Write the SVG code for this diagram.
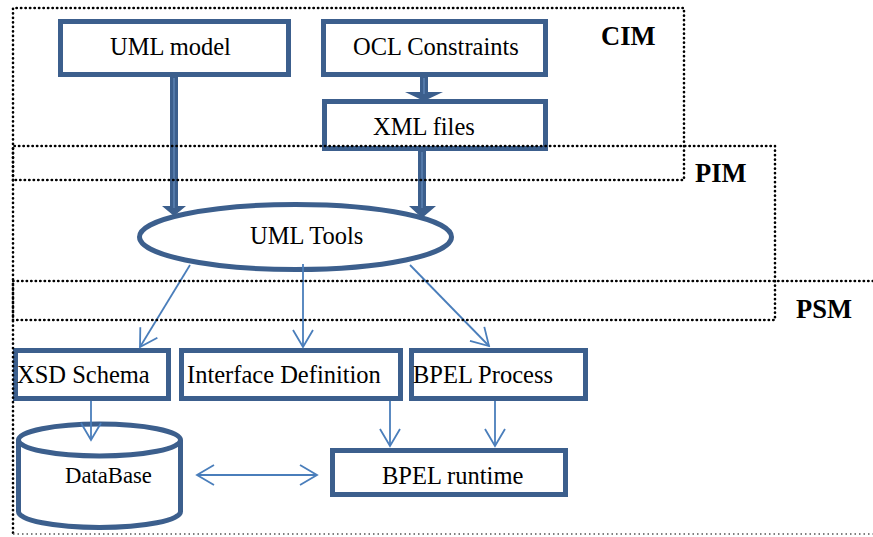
<svg xmlns="http://www.w3.org/2000/svg" width="873" height="537" viewBox="0 0 873 537">
<defs>
<style>
.box{fill:#fff;stroke:#3c5f8d;stroke-width:5}
.t{font-size:24.5px;fill:#000}
.lbl{font-size:26.5px;font-weight:bold;fill:#000}
.thin{fill:none;stroke:#4a7ebb;stroke-width:1.8}
.thick{fill:#3c5f8d}
.stripe{stroke:#5b82b3;stroke-width:1.5}
.dot{fill:none;stroke:#000;stroke-width:2.6;stroke-linecap:round;stroke-dasharray:0.3 4.2}
.dot2{fill:none;stroke:#555;stroke-width:1.5;stroke-dasharray:1.5 3}
</style>
<marker id="open" viewBox="-20 -12 22 24" refX="0" refY="0" markerWidth="22" markerHeight="24" markerUnits="userSpaceOnUse" orient="auto-start-reverse">
<path d="M-17,-10 L0,0 L-17,10" fill="none" stroke="#4a7ebb" stroke-width="1.8"/>
</marker>
</defs>
<rect width="873" height="537" fill="#fff"/>

<g id="connectors">
<polygon class="thick" points="170,77 178,77 178,206 186,206 174,216 162,206 170,206"/>
<line class="stripe" x1="174" y1="78" x2="174" y2="208"/>
<polygon class="thick" points="420,77 428,77 428,92 443,92 424,101 405,92 420,92"/>
<line class="stripe" x1="424" y1="78" x2="424" y2="94"/>
<polygon class="thick" points="418,151 426,151 426,206 436,206 422,218 409,206 418,206"/>
<line class="stripe" x1="422" y1="152" x2="422" y2="208"/>
</g>

<g font-family="Liberation Serif, Times New Roman, serif">
<g id="uml-model">
<rect class="box" x="60.5" y="21.5" width="228" height="53"/>
<text class="t" x="110" y="55">UML model</text>
</g>
<g id="ocl-constraints">
<rect class="box" x="323.5" y="21.5" width="222" height="53"/>
<text class="t" x="353" y="55">OCL Constraints</text>
</g>
<g id="xml-files">
<rect class="box" x="324.5" y="101.5" width="221" height="47"/>
<text class="t" x="373" y="135">XML files</text>
</g>
<g id="uml-tools">
<ellipse class="box" cx="295.5" cy="237" rx="156" ry="32.5"/>
<text class="t" x="250" y="244">UML Tools</text>
</g>
<g id="xsd-schema">
<rect class="box" x="15.5" y="350.5" width="153" height="48"/>
<text class="t" x="17" y="383">XSD Schema</text>
</g>
<g id="interface-definition">
<rect class="box" x="181.5" y="350.5" width="219" height="48"/>
<text class="t" x="187" y="383">Interface Definition</text>
</g>
<g id="bpel-process">
<rect class="box" x="411.5" y="350.5" width="174" height="48"/>
<text class="t" x="413" y="383">BPEL Process</text>
</g>
<g id="database">
<path class="box" style="fill:none" d="M18.5,440 L18.5,511.5 A81,16 0 0,0 180.5,511.5 L180.5,440"/>
<ellipse class="box" style="fill:none" cx="99.5" cy="440" rx="81" ry="16"/>
<text class="t" x="65" y="483" style="font-size:22.7px">DataBase</text>
</g>
<g id="bpel-runtime">
<rect class="box" x="332.5" y="450.5" width="233" height="44"/>
<text class="t" x="382" y="484">BPEL runtime</text>
</g>
</g>

<g id="thin-connectors">
<line class="thin" x1="190" y1="265" x2="140" y2="347" marker-end="url(#open)"/>
<line class="thin" x1="303" y1="264" x2="303" y2="347" marker-end="url(#open)"/>
<line class="thin" x1="410" y1="265" x2="489" y2="346" marker-end="url(#open)"/>
<line class="thin" x1="91" y1="401" x2="91" y2="440" marker-end="url(#open)"/>
<line class="thin" x1="390" y1="401" x2="390" y2="446" marker-end="url(#open)"/>
<line class="thin" x1="495" y1="401" x2="495" y2="446" marker-end="url(#open)"/>
<line class="thin" x1="197" y1="475" x2="317" y2="475" marker-start="url(#open)" marker-end="url(#open)"/>
</g>

<g font-family="Liberation Serif, Times New Roman, serif">
<g id="cim">
<path class="dot" d="M13,180 L13,8 L684,8 L684,180 L13,180"/>
<text class="lbl" x="601" y="45">CIM</text>
</g>
<g id="pim">
<path class="dot" d="M13,320 L13,146 L775,146 L775,320 L13,320"/>
<text class="lbl" x="695" y="182">PIM</text>
</g>
<g id="psm">
<path class="dot" d="M873,281 L13,281 L13,534"/>
<path class="dot2" d="M13,534 L873,534"/>
<text class="lbl" x="796" y="318">PSM</text>
</g>
</g>
</svg>
